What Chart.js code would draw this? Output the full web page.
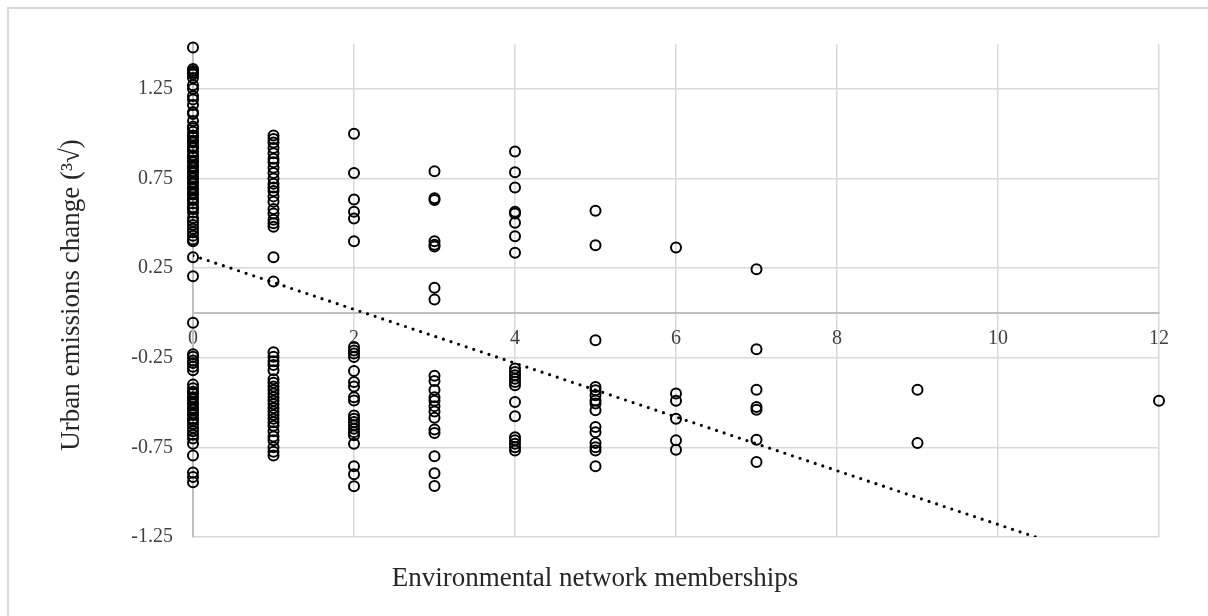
<!DOCTYPE html>
<html>
<head>
<meta charset="utf-8">
<script src="https://cdn.jsdelivr.net/npm/chart.js@4"></script>
<style>
  html, body { margin: 0; padding: 0; background: #fff; overflow: hidden; }
  #wrap { position: relative; width: 1208px; height: 616px; }
  #frame { position: absolute; left: 7px; top: 7px; width: 1400px; height: 800px; border: 2px solid #d9d9d9; pointer-events: none; }
</style>
</head>
<body>
<div id="wrap">
  <canvas id="chart" width="1208" height="616"></canvas>
  <div id="frame"></div>
</div>
<script>
// Données : une liste de valeurs par nombre d'adhésions
const memberships = [0, 1, 2, 3, 4, 5, 6, 7, 9, 12];

const emissions0 = [1.48, 1.36, 1.35, 1.34, 1.33, 1.31, 1.27, 1.25, 1.21, 1.19, 1.16, 1.12, 1.11, 1.07,
  1.04, 1.03, 1.01, 0.99, 0.98, 0.96, 0.95, 0.93, 0.92, 0.90, 0.88, 0.87, 0.85, 0.84, 0.82, 0.81,
  0.79, 0.78, 0.76, 0.75, 0.73, 0.72, 0.70, 0.69, 0.67, 0.66, 0.64, 0.63, 0.61, 0.59, 0.58, 0.56,
  0.53, 0.51, 0.49, 0.47, 0.45, 0.43, 0.41, 0.40, 0.31, 0.205,
  -0.055, -0.23, -0.245, -0.265, -0.28, -0.30, -0.32,
  -0.40, -0.42, -0.44, -0.45, -0.47, -0.48, -0.50, -0.51, -0.53, -0.54, -0.56, -0.57, -0.59, -0.60,
  -0.62, -0.64, -0.66, -0.68, -0.70, -0.73, -0.795, -0.89, -0.915, -0.945];
const emissions1 = [0.99, 0.97, 0.95, 0.92, 0.89, 0.86, 0.84, 0.81, 0.78, 0.75, 0.72, 0.70, 0.68, 0.65,
  0.62, 0.58, 0.555, 0.52, 0.50, 0.48, 0.31, 0.175,
  -0.22, -0.245, -0.27, -0.29, -0.32, -0.37, -0.39, -0.41, -0.43, -0.45, -0.47, -0.49, -0.51, -0.53,
  -0.55, -0.57, -0.59, -0.61, -0.63, -0.66, -0.69, -0.71, -0.75, -0.775, -0.795];
const emissions2 = [1.00, 0.78, 0.633, 0.564, 0.527, 0.40,
  -0.19, -0.21, -0.227, -0.246, -0.324, -0.386, -0.41, -0.47, -0.488, -0.572, -0.59, -0.609, -0.627,
  -0.646, -0.665, -0.683, -0.73, -0.855, -0.90, -0.967];
const emissions3 = [0.79, 0.64, 0.63, 0.40, 0.38, 0.37, 0.14, 0.075,
  -0.35, -0.38, -0.43, -0.47, -0.49, -0.52, -0.55, -0.585, -0.65, -0.67, -0.80, -0.895, -0.965];
const emissions4 = [0.90, 0.784, 0.70, 0.564, 0.555, 0.503, 0.428, 0.335,
  -0.31, -0.33, -0.348, -0.367, -0.386, -0.404, -0.497, -0.577, -0.693, -0.711, -0.73, -0.749, -0.767];
const emissions5 = [0.57, 0.378, -0.152, -0.413, -0.432, -0.46, -0.488, -0.506, -0.543, -0.637, -0.665,
  -0.726, -0.749, -0.767, -0.856];
const emissions6 = [0.365, -0.45, -0.49, -0.59, -0.711, -0.763];
const emissions7 = [0.244, -0.203, -0.428, -0.525, -0.54, -0.708, -0.832];
const emissions9 = [-0.428, -0.726];
const emissions12 = [-0.49];

const emissionsByCount = [emissions0, emissions1, emissions2, emissions3, emissions4,
  emissions5, emissions6, emissions7, emissions9, emissions12];

// Tendance linéaire (ordonnée à l'origine et pente)
const trendIntercept = 0.32;
const trendSlope = -0.15;
const trendX = [0, 12];

const xTicks = [0, 2, 4, 6, 8, 10, 12];
const yTicks = [-1.25, -0.75, -0.25, 0.25, 0.75, 1.25];

const xTitle = 'Environmental network memberships';
const yTitle = 'Urban emissions change (\u00B3\u221A)';

const serif = "'Times New Roman', 'Liberation Serif', serif";

// Construire les points du nuage
const scatterPoints = [];
memberships.forEach((m, i) => {
    emissionsByCount[i].forEach(v => scatterPoints.push({ x: m, y: v }));
});
const trendPoints = trendX.map(x => ({ x: x, y: trendIntercept + trendSlope * x }));

// Titres des axes dessinés à la main (l'axe x est placé sur y = 0)
const axisTitles = {
    id: 'axisTitles',
    afterDraw(chart) {
        const ctx = chart.ctx;
        ctx.save();
        ctx.fillStyle = '#262626';
        ctx.font = '27px ' + serif;
        ctx.textAlign = 'center';
        ctx.textBaseline = 'alphabetic';
        ctx.fillText(xTitle, 595, 586);
        ctx.translate(79, 295);
        ctx.rotate(-Math.PI / 2);
        ctx.fillText(yTitle, 0, 0);
        ctx.restore();
    }
};

new Chart(document.getElementById('chart').getContext('2d'), {
    type: 'scatter',
    data: {
        datasets: [{
            label: 'Emissions',
            data: scatterPoints,
            pointRadius: 5,
            pointHoverRadius: 5,
            pointBorderWidth: 2,
            pointBorderColor: '#000',
            pointBackgroundColor: 'rgba(0,0,0,0)',
            clip: false,
            order: 2
        }, {
            type: 'line',
            label: 'Trend',
            data: trendPoints,
            borderColor: '#000',
            borderWidth: 3.2,
            borderDash: [0, 8],
            borderCapStyle: 'round',
            pointRadius: 0,
            fill: false,
            order: 1
        }]
    },
    options: {
        responsive: false,
        animation: false,
        events: [],
        layout: { padding: { left: 0, top: 44, right: 49, bottom: 79 } },
        plugins: {
            legend: { display: false },
            tooltip: { enabled: false }
        },
        scales: {
            x: {
                type: 'linear',
                position: { y: 0 },
                min: 0,
                max: 12,
                afterBuildTicks: (scale) => { scale.ticks = xTicks.map(v => ({ value: v })); },
                grid: { color: '#d9d9d9', lineWidth: 1.5, drawTicks: false },
                border: { color: '#bfbfbf', width: 2 },
                ticks: {
                    color: '#404040',
                    font: { family: serif, size: 20 },
                    padding: 14,
                    maxRotation: 0,
                    callback: (v) => String(v)
                }
            },
            y: {
                type: 'linear',
                min: -1.25,
                max: 1.5,
                afterBuildTicks: (scale) => { scale.ticks = yTicks.map(v => ({ value: v })); },
                afterFit: (scale) => { scale.width = 193; },
                grid: { color: '#d9d9d9', lineWidth: 1.5, drawTicks: false },
                border: { color: '#bfbfbf', width: 2 },
                ticks: {
                    color: '#404040',
                    font: { family: serif, size: 20 },
                    padding: 20,
                    callback: (v) => v.toFixed(2)
                }
            }
        }
    },
    plugins: [axisTitles]
});
</script>
</body>
</html>
